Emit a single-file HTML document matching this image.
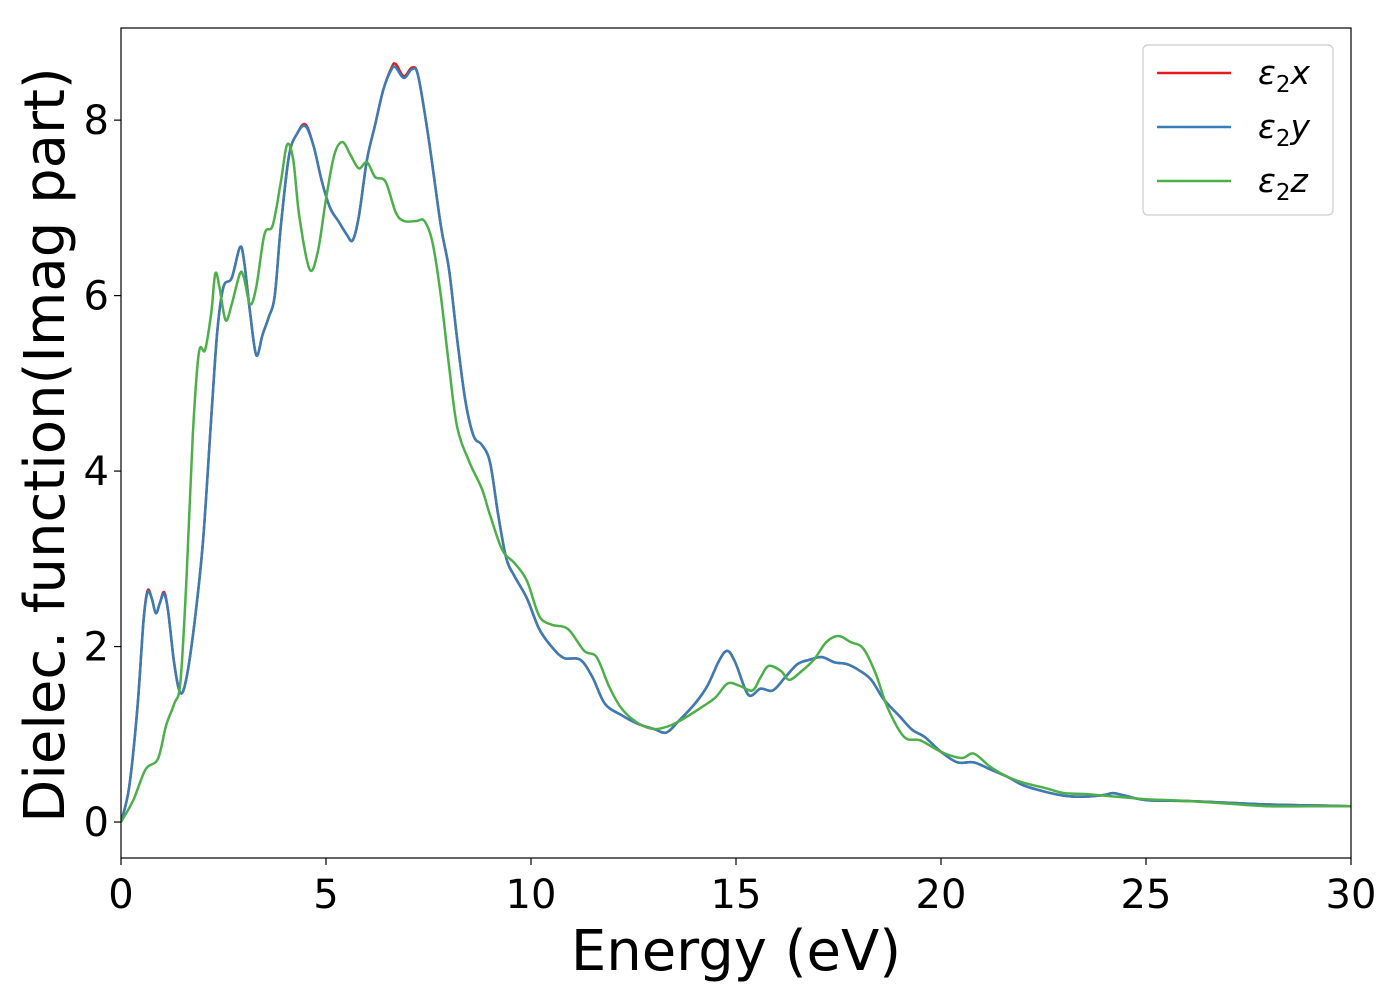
<!DOCTYPE html>
<html><head><meta charset="utf-8"><style>
body{margin:0;background:#fff}
svg text{font-family:"DejaVu Sans","Liberation Sans",sans-serif}
</style></head><body>
<svg id="chart" width="1400" height="1000" xmlns="http://www.w3.org/2000/svg">
<g id="plot"></g>
</svg>
<script>
const energyXY=[0,0.2,0.4,0.55,0.65,0.75,0.85,0.95,1.05,1.15,1.3,1.45,1.6,1.8,2.0,2.2,2.35,2.5,2.7,2.9,3.0,3.15,3.3,3.45,3.6,3.75,3.9,4.1,4.3,4.5,4.7,4.9,5.1,5.3,5.5,5.65,5.8,6.0,6.2,6.4,6.6,6.7,6.9,7.1,7.25,7.5,7.8,8.0,8.2,8.4,8.6,8.8,9.0,9.2,9.4,9.6,9.9,10.2,10.5,10.8,11.2,11.5,11.8,12.2,12.6,13.0,13.3,13.6,14.0,14.3,14.6,14.8,15.0,15.3,15.6,15.9,16.2,16.5,16.8,17.1,17.4,17.7,18.0,18.3,18.6,19.0,19.3,19.6,20.0,20.4,20.8,21.2,21.6,22.0,22.5,23.0,23.5,24.0,24.2,24.5,25,26,27,28,29,30];
const eps2x=[0,0.4,1.3,2.3,2.64,2.55,2.38,2.5,2.62,2.4,1.8,1.47,1.65,2.3,3.2,4.6,5.6,6.1,6.2,6.55,6.4,5.8,5.32,5.55,5.75,6.0,6.8,7.6,7.85,7.95,7.7,7.3,7.0,6.85,6.7,6.63,6.9,7.55,7.95,8.35,8.6,8.64,8.5,8.6,8.5,7.8,6.8,6.3,5.5,4.8,4.4,4.3,4.1,3.5,3.0,2.8,2.55,2.2,2.0,1.87,1.85,1.65,1.35,1.22,1.12,1.06,1.02,1.15,1.35,1.55,1.85,1.95,1.8,1.45,1.52,1.5,1.65,1.8,1.85,1.88,1.82,1.8,1.73,1.62,1.4,1.2,1.05,0.97,0.8,0.68,0.68,0.6,0.52,0.42,0.35,0.3,0.29,0.31,0.33,0.3,0.25,0.24,0.22,0.2,0.19,0.18];
const eps2y=[0,0.4,1.3,2.3,2.62,2.55,2.38,2.5,2.6,2.4,1.8,1.47,1.65,2.3,3.2,4.6,5.6,6.1,6.2,6.55,6.4,5.8,5.32,5.55,5.75,6.0,6.8,7.6,7.85,7.93,7.7,7.3,7.0,6.85,6.7,6.63,6.9,7.55,7.95,8.35,8.58,8.6,8.48,8.58,8.5,7.8,6.8,6.3,5.5,4.8,4.4,4.3,4.1,3.5,3.0,2.8,2.55,2.2,2.0,1.87,1.85,1.65,1.35,1.22,1.12,1.06,1.02,1.15,1.35,1.55,1.85,1.95,1.8,1.45,1.52,1.5,1.65,1.8,1.85,1.88,1.82,1.8,1.73,1.62,1.4,1.2,1.05,0.97,0.8,0.68,0.68,0.6,0.52,0.42,0.35,0.3,0.29,0.31,0.33,0.3,0.25,0.24,0.22,0.2,0.19,0.18];
const energyZ=[0,0.3,0.6,0.9,1.1,1.3,1.45,1.6,1.75,1.9,2.05,2.2,2.3,2.4,2.55,2.7,2.9,3.0,3.15,3.3,3.5,3.7,3.9,4.05,4.2,4.35,4.6,4.8,5.0,5.2,5.4,5.6,5.8,6.0,6.2,6.45,6.7,6.9,7.2,7.4,7.6,7.8,8.0,8.2,8.5,8.8,9.0,9.3,9.6,9.9,10.2,10.5,10.9,11.3,11.6,11.9,12.2,12.6,13.0,13.4,13.8,14.2,14.5,14.8,15.1,15.4,15.6,15.8,16.1,16.3,16.6,16.9,17.2,17.5,17.8,18.1,18.4,18.7,19.1,19.5,20.0,20.5,20.8,21.2,21.6,22.0,22.6,23.0,23.5,24.0,24.5,25,26,27,28,29,30];
const eps2z=[0,0.25,0.6,0.72,1.1,1.35,1.6,2.8,4.4,5.35,5.38,5.8,6.25,6.1,5.72,5.9,6.25,6.2,5.9,6.1,6.7,6.8,7.3,7.72,7.55,6.9,6.3,6.5,7.1,7.6,7.75,7.6,7.45,7.52,7.35,7.3,6.95,6.85,6.85,6.85,6.6,6.0,5.2,4.5,4.1,3.8,3.5,3.1,2.95,2.75,2.35,2.25,2.2,1.95,1.88,1.55,1.3,1.13,1.06,1.1,1.2,1.32,1.42,1.58,1.55,1.5,1.65,1.78,1.72,1.62,1.72,1.85,2.05,2.12,2.05,1.98,1.7,1.3,0.97,0.93,0.8,0.73,0.78,0.63,0.52,0.45,0.38,0.33,0.32,0.3,0.28,0.26,0.24,0.21,0.18,0.18,0.18];
const xTicks=[0,5,10,15,20,25,30];
const yTicks=[0,2,4,6,8];
const L=121,R=1351,T=28,B=858,xMin=0,xMax=30,yMin=-0.41,yMax=9.05;
const sx=v=>L+(v-xMin)/(xMax-xMin)*(R-L);
const sy=v=>B-(v-yMin)/(yMax-yMin)*(B-T);
const NS="http://www.w3.org/2000/svg";
const svg=document.getElementById('chart');
function mk(tag,attrs,parent){const e=document.createElementNS(NS,tag);for(const k in attrs)e.setAttribute(k,attrs[k]);(parent||svg).appendChild(e);return e;}
function pathFor(xs,ys){const p=xs.map((x,i)=>[sx(x),sy(ys[i])]);let d=`M${p[0][0]},${p[0][1]}`;
for(let i=0;i<p.length-1;i++){const p0=p[Math.max(0,i-1)],p1=p[i],p2=p[i+1],p3=p[Math.min(p.length-1,i+2)];
const c1x=p1[0]+(p2[0]-p0[0])/6,c1y=p1[1]+(p2[1]-p0[1])/6,c2x=p2[0]-(p3[0]-p1[0])/6,c2y=p2[1]-(p3[1]-p1[1])/6;
d+=` C${c1x},${c1y} ${c2x},${c2y} ${p2[0]},${p2[1]}`;}return d;}
const plot=document.getElementById('plot');
const series=[[energyXY,eps2x,'#e41a1c','series-eps2x'],[energyXY,eps2y,'#377eb8','series-eps2y'],[energyZ,eps2z,'#4daf4a','series-eps2z']];
const clip=mk('clipPath',{id:'clp'});mk('rect',{x:L,y:T,width:R-L,height:B-T},clip);
series.forEach(s=>{const e=mk('path',{d:pathFor(s[0],s[1]),fill:'none',stroke:s[2],'stroke-width':2.5,'clip-path':'url(#clp)'},plot);

});
const frame=mk('rect',{x:L,y:T,width:R-L,height:B-T,fill:'none',stroke:'#000','stroke-width':1.2});


xTicks.forEach(t=>{const x=sx(t);mk('line',{x1:x,x2:x,y1:B,y2:B+7,stroke:'#000','stroke-width':1.2});
const tx=mk('text',{x:x,y:B+50,'font-size':40,'text-anchor':'middle'});tx.textContent=t;

});
yTicks.forEach(t=>{const y=sy(t);mk('line',{x1:L-7,x2:L,y1:y,y2:y,stroke:'#000','stroke-width':1.2});
const tx=mk('text',{x:L-12,y:y+14,'font-size':40,'text-anchor':'end'});tx.textContent=t;

});
const xl=mk('text',{x:(L+R)/2,y:970,'font-size':56,'text-anchor':'middle'});xl.textContent='Energy (eV)';


const yl=mk('text',{x:0,y:0,'font-size':56,'text-anchor':'middle',transform:`translate(64,445) rotate(-90)`});yl.textContent='Dielec. function(Imag part)';


const lg=mk('g',{});


mk('rect',{x:1143,y:45,width:190,height:170,rx:5,fill:'#fff',stroke:'#ccc','stroke-width':1.2},lg);
const labs=['x','y','z'];
series.forEach((s,i)=>{const y=73+i*54;mk('line',{x1:1157,x2:1231,y1:y,y2:y,stroke:s[2],'stroke-width':2.5},lg);
const t=mk('text',{x:1258,y:y+11,'font-size':33,'font-style':'italic'},lg);
t.innerHTML='ε<tspan font-style="normal" font-size="23" dy="8">2</tspan><tspan dy="-8">'+labs[i]+'</tspan>';

});
</script>
</body></html>
